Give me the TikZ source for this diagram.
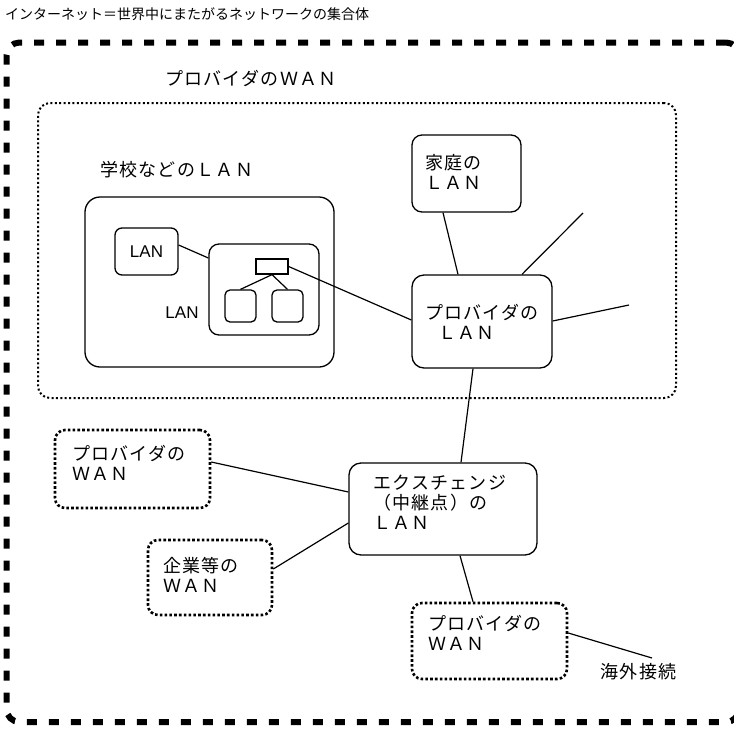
\documentclass[tikz,border=0pt]{standalone}
\usepackage{fontspec}
\usetikzlibrary{calc}
\newfontfamily\jp{Noto Sans CJK JP}
\newfontfamily\jpm[LetterSpace=7]{Noto Sans CJK JP}
\newfontfamily\arialf{Liberation Sans}
\begin{document}
\begin{tikzpicture}[x=1pt,y=-1pt,
  box/.style={draw, line width=1.3pt, rounded corners=#1, inner sep=0pt},
  box/.default=10pt,
  dotbox/.style={draw, line width=2.6pt, dash pattern=on 2.6pt off 2.2pt, rounded corners=10pt, inner sep=0pt},
  wanbox/.style={draw, line width=2pt, dash pattern=on 2pt off 2.4pt, rounded corners=12pt, inner sep=0pt},
  netbox/.style={draw, line width=6pt, dash pattern=on 10pt off 12pt, rounded corners=13pt, inner sep=0pt},
  link/.style={line width=1.2pt},
  lbl/.style={font=\jpm\fontsize{18}{20}\selectfont, align=left, inner sep=0pt},
  latin/.style={font=\arialf\fontsize{17}{19}\selectfont, inner sep=0pt},
  title/.style={font=\jp\fontsize{14}{16}\selectfont, inner sep=0pt}
]
\useasboundingbox (0,0) rectangle (734,729);
\begin{scope}
\clip (0,0) rectangle (734,729);
\node[netbox, minimum width=732.5pt, minimum height=679.5pt] (inet) at (372.75,382.25) {};
\end{scope}
\node[title, anchor=west] (ttl) at (5,14) {インターネット＝世界中にまたがるネットワークの集合体};

% provider WAN
\node[wanbox, minimum width=638pt, minimum height=295pt] (pwan) at (357,250.5) {};
\node[lbl, anchor=west] (pwanl) at (165,78) {プロバイダのＷＡＮ};

% school
\node[box=15pt, minimum width=249pt, minimum height=170pt] (school) at (209.5,282) {};
\node[lbl, anchor=west] (schooll) at (100,170) {学校などのＬＡＮ};
\node[box=7pt, latin, minimum width=63pt, minimum height=47pt] (lanA) at (146.5,251.5) {LAN};
\node[box=10pt, minimum width=110pt, minimum height=91pt] (lanB) at (264,289.5) {};
\node[latin] (lanBl) at (182,313) {LAN};
\node[box=0pt, minimum width=32pt, minimum height=15pt] (router) at (272,266.5) {};
\node[box=5pt, minimum width=31pt, minimum height=32pt] (hostL) at (240.5,306) {};
\node[box=5pt, minimum width=31pt, minimum height=32pt] (hostR) at (287.5,306) {};

% home and provider LAN
\node[box=10pt, minimum width=109pt, minimum height=77pt] (home) at (466.5,173.5) {};
\node[lbl, anchor=west] (homel) at (425,171.5) {家庭の\\ＬＡＮ};
\node[box=12pt, minimum width=140pt, minimum height=93pt] (plan) at (482,321.5) {};
\node[lbl, anchor=west] (planl) at (425,322) {プロバイダの\\\hspace*{13pt}ＬＡＮ};

% exchange
\node[box=12pt, minimum width=188pt, minimum height=92pt] (ix) at (443,509) {};
\node[lbl, anchor=west] (ixl) at (373,502) {エクスチェンジ\\（中継点）の\\ＬＡＮ};

% other WANs
\node[dotbox, minimum width=155pt, minimum height=78pt] (wanL) at (132.5,469) {};
\node[lbl, anchor=west] (wanLl) at (72,463) {プロバイダの\\ＷＡＮ};
\node[dotbox, minimum width=124pt, minimum height=75pt] (ent) at (210,577.5) {};
\node[lbl, anchor=west] (entl) at (163,575) {企業等の\\ＷＡＮ};
\node[dotbox, minimum width=155pt, minimum height=76pt] (wanB) at (489.5,641) {};
\node[lbl, anchor=west] (wanBl) at (428,632.5) {プロバイダの\\ＷＡＮ};
\node[lbl] (abroad) at (638.5,672) {海外接続};

\coordinate (fr1) at (583,213);
\coordinate (fr2) at (629,305);

% connectors
\draw[link] ($(lanA.east)+(0,-6.5)$) -- ($(lanB.west)+(0,-31.5)$);
\draw[link] (router.east) -- ($(plan.west)+(0,-1.5)$);
\draw[link] (router.south) -- (hostL.north);
\draw[link] (router.south) -- (hostR.north);
\draw[link] ($(home.south)+(-23.5,0)$) -- ($(plan.north)+(-24,0)$);
\draw[link] ($(plan.north)+(40,0)$) -- (fr1);
\draw[link] ($(plan.east)+(0,-0.5)$) -- (fr2);
\draw[link] ($(plan.south)+(-9,0)$) -- ($(ix.north)+(18,0)$);
\draw[link] ($(wanL.east)+(0,-7)$) -- ($(ix.west)+(0,-17)$);
\draw[link] ($(ent.east)+(0,-8.5)$) -- ($(ix.west)+(0,14)$);
\draw[link] ($(ix.south)+(17,0)$) -- ($(wanB.north)+(-16.5,0)$);
\draw[link] ($(wanB.east)+(0,-8)$) -- ($(abroad.north)+(13.5,-5.5)$);
\end{tikzpicture}
\end{document}
